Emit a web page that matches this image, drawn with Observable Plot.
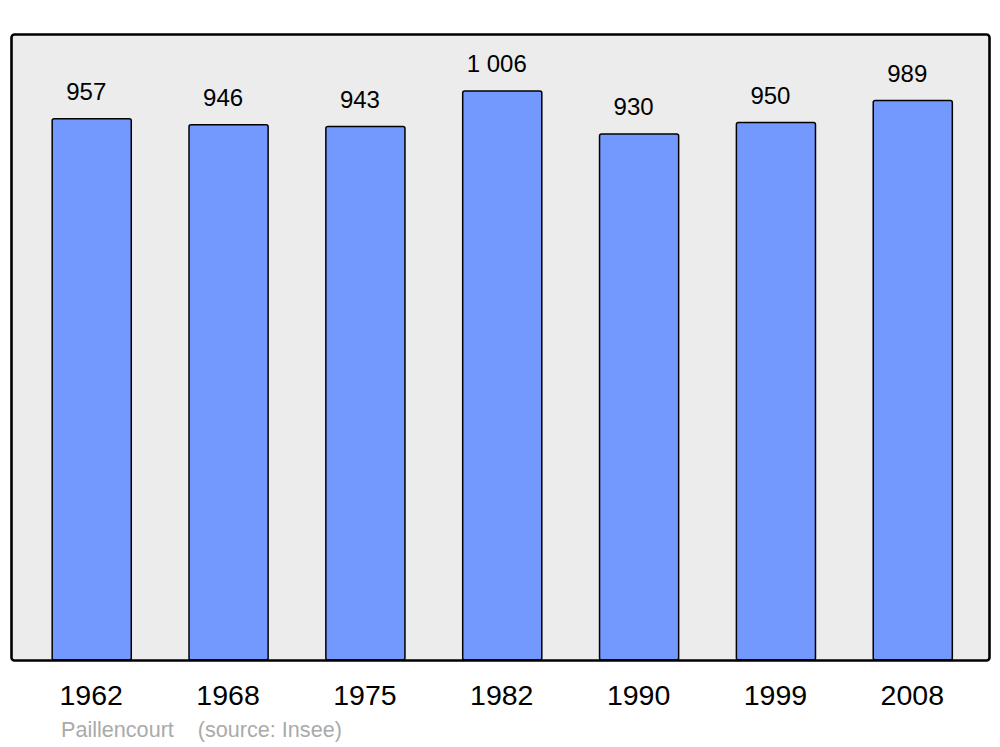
<!DOCTYPE html>
<html><head><meta charset="utf-8">
<script src="https://cdn.jsdelivr.net/npm/d3@7"></script>
<script src="https://cdn.jsdelivr.net/npm/@observablehq/plot@0.6"></script>
<style>
body{margin:0;background:#fff;font-family:"Liberation Sans",Arial,sans-serif;}
#cap{color:#aaa;font-size:21.6px;white-space:pre;padding-left:61px;margin-top:3px;line-height:24px;}
</style></head>
<body><div id="chart"></div><div id="cap">Paillencourt    (source: Insee)</div>
<script>
const years = ["1962","1968","1975","1982","1990","1999","2008"];
const population = [957, 946, 943, 1006, 930, 950, 989];
const data = years.map((y,i)=>({year:y, pop:population[i]}));
const fmt = d3.formatLocale({decimal:",", thousands:"\u00a0", grouping:[3], currency:["",""]}).format(",d");
const chart = Plot.plot({
  width:1000, height:715,
  marginLeft:11, marginRight:11, marginTop:34, marginBottom:55,
  style:{fontFamily:"Liberation Sans, Arial, sans-serif", background:"#fff"},
  x:{domain:years, range:[23.3,981.2], paddingInner:0.422, paddingOuter:0.211, align:0.5, round:false, label:null},
  y:{domain:[0, d3.max(population)*1.1], axis:null},
  marks:[
    Plot.frame({fill:"#ececec", stroke:"none", rx:3}),
    Plot.barY(data,{x:"year", y:"pop", fill:"#7399ff", stroke:"#000", strokeWidth:1.5, rx:2}),
    Plot.frame({fill:"none", stroke:"#000", strokeWidth:2.6, rx:3}),
    Plot.text(data,{x:"year", y:"pop", text:d=>fmt(d.pop), dy:-19, dx:-6, lineAnchor:"bottom", fontSize:24, fill:"#000"}),
    Plot.axisX({tickSize:0, tickPadding:24, fontSize:28.5, dx:-1, label:null, color:"#000"})
  ]
});
document.getElementById("chart").appendChild(chart);
</script></body></html>
